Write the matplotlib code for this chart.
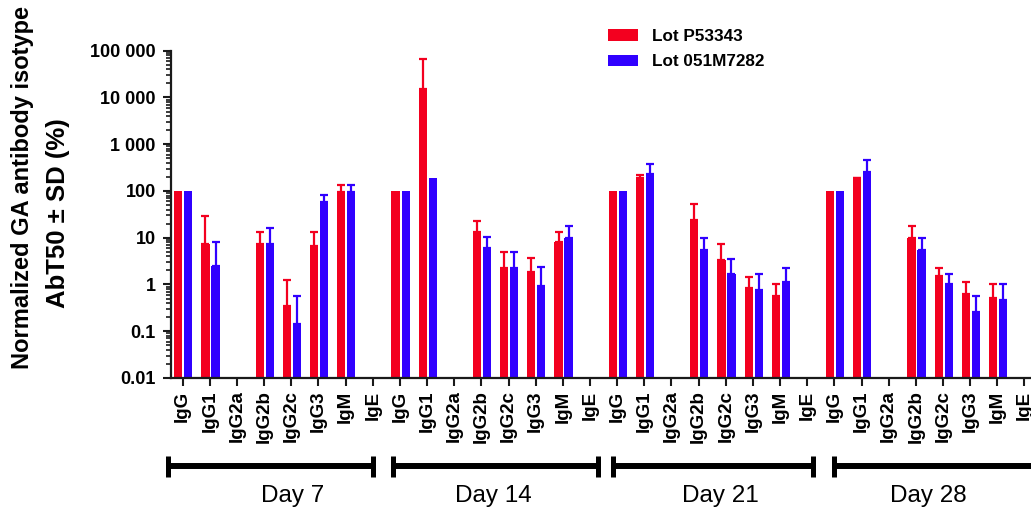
import numpy as np
import matplotlib
matplotlib.use("Agg")
import matplotlib.pyplot as plt
from matplotlib.patches import Patch
from matplotlib.transforms import blended_transform_factory

plt.rcParams['font.family'] = ['Liberation Sans', 'DejaVu Sans']

# ---------------- data ----------------
isotypes = ['IgG', 'IgG1', 'IgG2a', 'IgG2b', 'IgG2c', 'IgG3', 'IgM', 'IgE']
days = ['Day 7', 'Day 14', 'Day 21', 'Day 28']
series_names = ['Lot P53343', 'Lot 051M7282']
nan = np.nan

# Lot P53343 mean and SD per day (order = isotypes)
lot1_day7 = [100, 7.4, nan, 7.4, 0.35, 6.7, 94, nan]
lot1_day14 = [100, 15500, nan, 13, 2.26, 1.86, 8.1, nan]
lot1_day21 = [100, 190, nan, 24, 3.4, 0.85, 0.57, nan]
lot1_day28 = [100, 185, nan, 9.9, 1.53, 0.63, 0.52, nan]
lot1_sd_day7 = [0, 21.6, nan, 5.6, 0.89, 6.3, 43, nan]
lot1_sd_day14 = [0, 49500, nan, 10, 2.64, 1.74, 4.9, nan]
lot1_sd_day21 = [0, 34, nan, 28, 3.9, 0.63, 0.43, nan]
lot1_sd_day28 = [0, 5, nan, 7.7, 0.7, 0.51, 0.48, nan]

# Lot 051M7282 mean and SD per day
lot2_day7 = [100, 2.5, nan, 7.4, 0.144, 58, 94, nan]
lot2_day14 = [100, 190, nan, 6.0, 2.26, 0.93, 9.9, nan]
lot2_day21 = [100, 231, nan, 5.5, 1.69, 0.77, 1.14, nan]
lot2_day28 = [100, 255, nan, 5.5, 1.03, 0.26, 0.47, nan]
lot2_sd_day7 = [0, 5.6, nan, 8.6, 0.42, 25, 43, nan]
lot2_sd_day14 = [0, 0, nan, 4.6, 2.64, 1.47, 7.7, nan]
lot2_sd_day21 = [0, 139, nan, 4.3, 1.9, 0.89, 1.09, nan]
lot2_sd_day28 = [0, 198, nan, 4.3, 0.63, 0.3, 0.53, nan]

ytick_values = [0.01, 0.1, 1, 10, 100, 1000, 10000, 100000]
ytick_labels = ['0.01', '0.1', '1', '10', '100', '1 000', '10 000', '100 000']

# ---------------- layout constants ----------------
W, H = 1031, 509
RED = '#F3001F'
BLUE = '#3000FF'
bar_w = 0.30
offsets = [-0.16, 0.21]
# bracket spans (x in data units) and day label centres
bracket_spans = [(-0.54, 7.01), (7.75, 15.30), (15.85, 23.21), (23.99, 32.5)]
day_label_x = [4.04, 11.45, 19.79, 27.45]

lot1 = np.concatenate([lot1_day7, lot1_day14, lot1_day21, lot1_day28])
lot2 = np.concatenate([lot2_day7, lot2_day14, lot2_day21, lot2_day28])
sd1 = np.concatenate([lot1_sd_day7, lot1_sd_day14, lot1_sd_day21, lot1_sd_day28])
sd2 = np.concatenate([lot2_sd_day7, lot2_sd_day14, lot2_sd_day21, lot2_sd_day28])
labels = isotypes * len(days)
x = np.arange(len(labels))

fig = plt.figure(figsize=(W / 100, H / 100), dpi=100)
ax = fig.add_axes([171 / W, (H - 378) / H, (W - 171) / W, (378 - 50.7) / H])

for vals, sds, off, col in [(lot1, sd1, offsets[0], RED), (lot2, sd2, offsets[1], BLUE)]:
    ax.bar(x + off, vals, width=bar_w, color=col, edgecolor='none', zorder=2)
    m = np.isfinite(vals) & np.isfinite(sds) & (sds > 0)
    ax.errorbar(x[m] + off, vals[m], yerr=[np.zeros(m.sum()), sds[m]], fmt='none',
                ecolor=col, elinewidth=1.6, capsize=3, capthick=1.6, zorder=3)

ax.set_yscale('log')
ax.set_ylim(0.01, 100000)
ax.set_xlim(-0.43, 31.24)
ax.set_yticks(ytick_values)
ax.set_yticklabels(ytick_labels, fontsize=13, fontweight='bold')
ax.yaxis.set_minor_locator(matplotlib.ticker.LogLocator(base=10, subs=np.arange(2, 10)))
ax.yaxis.set_minor_formatter(matplotlib.ticker.NullFormatter())
ax.set_xticks(x)
ax.set_xticklabels(labels, rotation=90, fontsize=13.5, fontweight='bold', va='top', ha='center')

for s in ['top', 'right']:
    ax.spines[s].set_visible(False)
for s in ['left', 'bottom']:
    ax.spines[s].set_linewidth(1.6)
    ax.spines[s].set_color('#1a1a1a')
ax.tick_params(axis='y', which='major', length=6, width=1.5, pad=5, color='#1a1a1a')
ax.tick_params(axis='y', which='minor', length=3.5, width=1.2, color='#1a1a1a')
ax.tick_params(axis='x', which='major', length=6, width=1.5, pad=3, color='#1a1a1a')

# y label (two lines)
fig.text(23 / W, 1 - 188 / H, 'Normalized GA antibody isotype', rotation=90,
         ha='center', va='center', fontsize=17, fontweight='bold')
fig.text(58 / W, 1 - 213 / H, 'AbT50 \u00b1 SD (%)', rotation=90,
         ha='center', va='center', fontsize=18.5, fontweight='bold')

# day brackets
tr = blended_transform_factory(ax.transData, fig.transFigure)
yb = 1 - 466 / H
yc0, yc1 = 1 - 477 / H, 1 - 456 / H
for (x0, x1), lab, xl in zip(bracket_spans, days, day_label_x):
    ax.plot([x0, x1], [yb, yb], transform=tr, color='black', lw=4.3, clip_on=False,
            solid_capstyle='butt')
    for xe in (x0, x1):
        ax.plot([xe, xe], [yc0, yc1], transform=tr, color='black', lw=3.6, clip_on=False,
                solid_capstyle='butt')
    ax.text(xl, 1 - 502 / H, lab, transform=tr, ha='center', va='baseline', fontsize=17.5)

# legend
handles = [Patch(facecolor=RED, edgecolor='none'), Patch(facecolor=BLUE, edgecolor='none')]
fig.legend(handles, series_names, loc='upper left', bbox_to_anchor=(608 / W, 1 - 29 / H),
           bbox_transform=fig.transFigure, frameon=False, borderpad=0, borderaxespad=0,
           handlelength=1.75, handleheight=0.65, handletextpad=0.85, labelspacing=0.6,
           prop={'weight': 'bold', 'size': 12.3})

fig.savefig('out.png', dpi=100)
